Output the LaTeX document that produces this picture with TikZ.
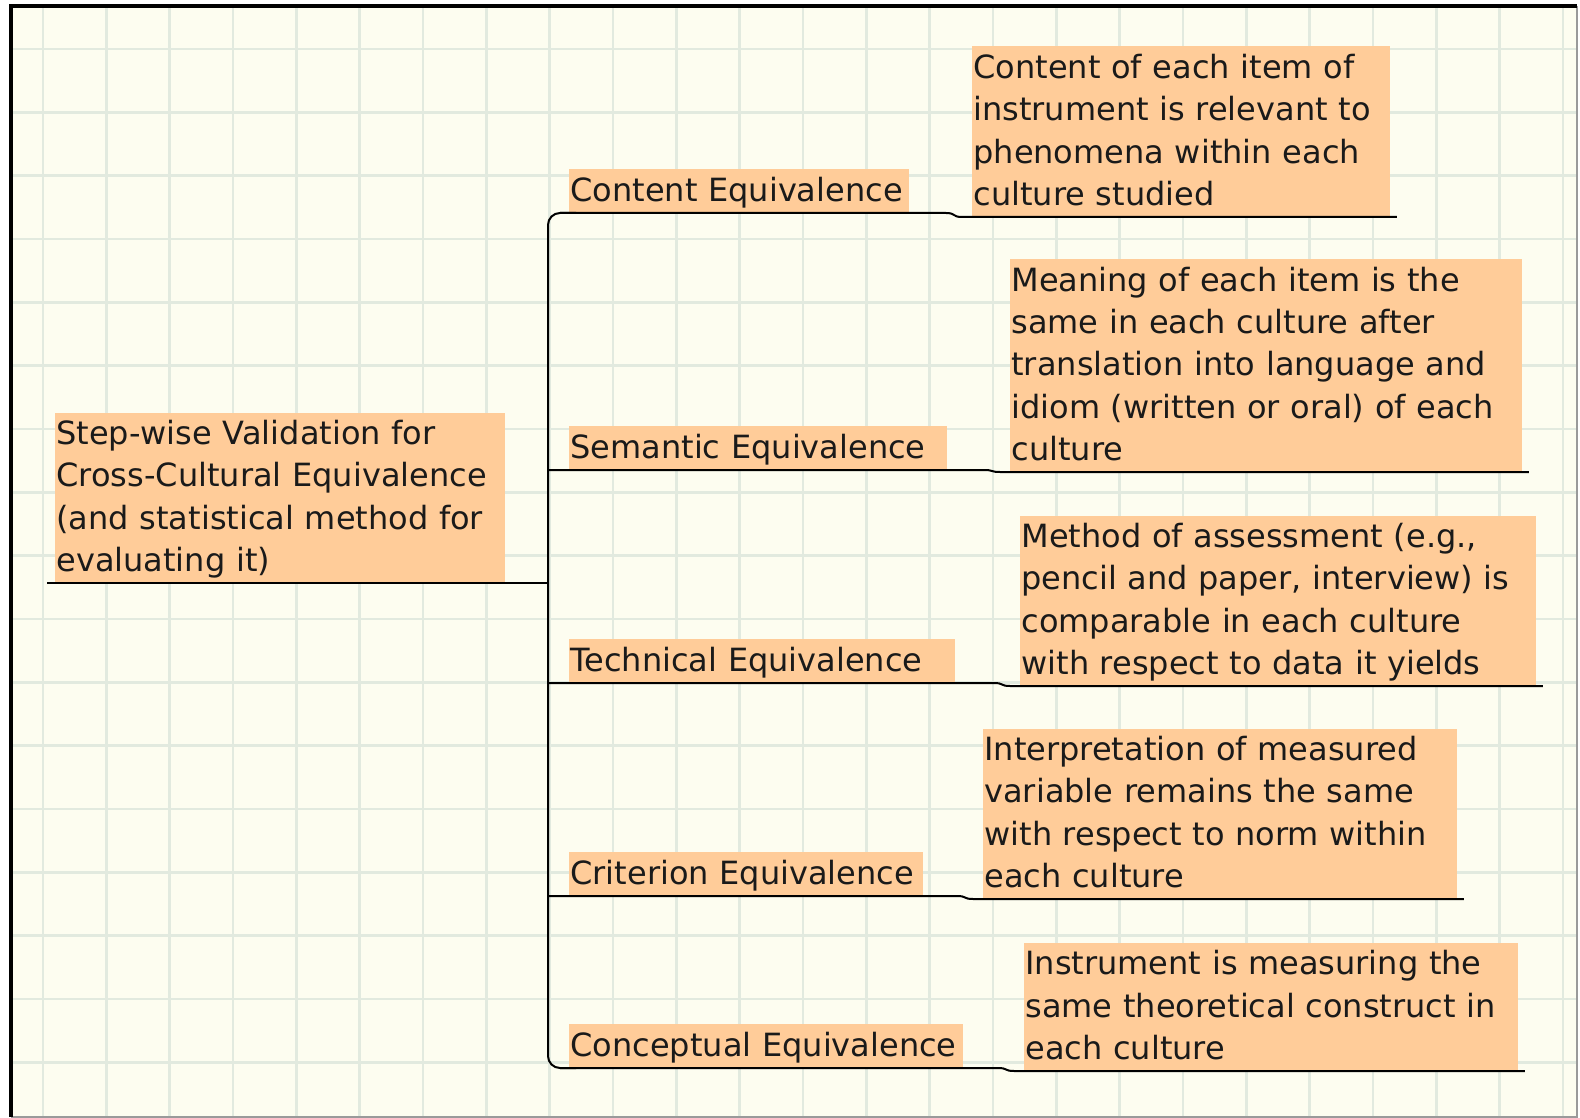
\documentclass[tikz,border=0pt]{standalone}
\usepackage{fontspec}
\setmainfont{DejaVu Sans}
\usetikzlibrary{positioning,calc}
\definecolor{paperfill}{HTML}{FDFDF0}
\definecolor{gridgreen}{HTML}{E2EADF}
\definecolor{peachfill}{HTML}{FFCC99}
\definecolor{inkgray}{HTML}{1A1A1A}
\definecolor{framegray}{HTML}{9A9A9A}
\tikzset{
  box/.style={fill=peachfill,text=inkgray,align=left,inner xsep=0.5pt,inner ysep=0pt,anchor=south west,
    font={\fontsize{16pt}{21.15pt}\selectfont},
    execute at begin node={\rule{0pt}{16pt}},execute at end node={\rule[-5.6pt]{0pt}{5.6pt}}},
  labelbox/.style={box},
  notebox/.style={box},
  link/.style={draw=black,line width=1pt},
  gridline/.style={draw=gridgreen,line width=1.3pt}
}

\begin{document}
\begin{tikzpicture}[x=0.5pt,y=-0.5pt]
  \useasboundingbox (0,0) rectangle (1580,1118);
  % squared paper
  \fill[paperfill] (11,6) rectangle (1577,1117);
  \foreach \i in {0,...,24} \draw[gridline] ({43+63.33*\i},6) -- ({43+63.33*\i},1117);
  \foreach \j in {0,...,16} \draw[gridline] (11,{49+63.33*\j}) -- (1577,{49+63.33*\j});
  \draw[framegray,line width=0.8pt] (11,1117) -- (1577,1117) -- (1577,6);
  \draw[black,line width=1.6pt] (11,1117) -- (11,6) -- (1577,6);

  \node[box,text width=224pt] (root) at (55,583) {Step-wise Validation for\\Cross-Cultural Equivalence\\(and statistical method for\\evaluating it)};
  \coordinate (hub) at (548,583);

  \node[labelbox,text width=169pt] (content) at (569,213) {Content Equivalence};
  \node[labelbox,text width=188pt] (semantic) at (569,470) {Semantic Equivalence};
  \node[labelbox,text width=192pt] (technical) at (569,683) {Technical Equivalence};
  \node[labelbox,text width=176pt] (criterion) at (569,896) {Criterion Equivalence};
  \node[labelbox,text width=196pt] (conceptual) at (569,1068) {Conceptual Equivalence};

  \node[notebox,text width=208pt] (contentnote) at (972,217) {Content of each item of\\instrument is relevant to\\phenomena within each\\culture studied};
  \node[notebox,text width=255pt] (semanticnote) at (1010,472) {Meaning of each item is the\\same in each culture after\\translation into language and\\idiom (written or oral) of each\\culture};
  \node[notebox,text width=257pt] (technicalnote) at (1020,686) {Method of assessment (e.g.,\\pencil and paper, interview) is\\comparable in each culture\\with respect to data it yields};
  \node[notebox,text width=236pt] (criterionnote) at (983,899) {Interpretation of measured\\variable remains the same\\with respect to norm within\\each culture};
  \node[notebox,text width=246pt] (conceptualnote) at (1024,1071) {Instrument is measuring the\\same theoretical construct in\\each culture};

  \draw[link] ([xshift=-4pt]root.south west) -- (hub);
  \draw[link,rounded corners=6pt] ([xshift=14pt]hub |- content.south) -- (hub |- content.south) -- (hub |- conceptual.south) -- ([xshift=14pt]hub |- conceptual.south);
  \draw[link] ([xshift=6pt]hub |- content.south) -- ([xshift=-13pt]contentnote.south west |- content.south) .. controls +(5pt,0) and +(-5pt,0) .. ([xshift=-5pt]contentnote.south west) -- ([xshift=3pt]contentnote.south east);
  \draw[link] (hub |- semantic.south) -- ([xshift=-13pt]semanticnote.south west |- semantic.south) .. controls +(5pt,0) and +(-5pt,0) .. ([xshift=-5pt]semanticnote.south west) -- ([xshift=3pt]semanticnote.south east);
  \draw[link] (hub |- technical.south) -- ([xshift=-13pt]technicalnote.south west |- technical.south) .. controls +(5pt,0) and +(-5pt,0) .. ([xshift=-5pt]technicalnote.south west) -- ([xshift=3pt]technicalnote.south east);
  \draw[link] (hub |- criterion.south) -- ([xshift=-13pt]criterionnote.south west |- criterion.south) .. controls +(5pt,0) and +(-5pt,0) .. ([xshift=-5pt]criterionnote.south west) -- ([xshift=3pt]criterionnote.south east);
  \draw[link] ([xshift=6pt]hub |- conceptual.south) -- ([xshift=-13pt]conceptualnote.south west |- conceptual.south) .. controls +(5pt,0) and +(-5pt,0) .. ([xshift=-5pt]conceptualnote.south west) -- ([xshift=3pt]conceptualnote.south east);
\end{tikzpicture}
\end{document}
